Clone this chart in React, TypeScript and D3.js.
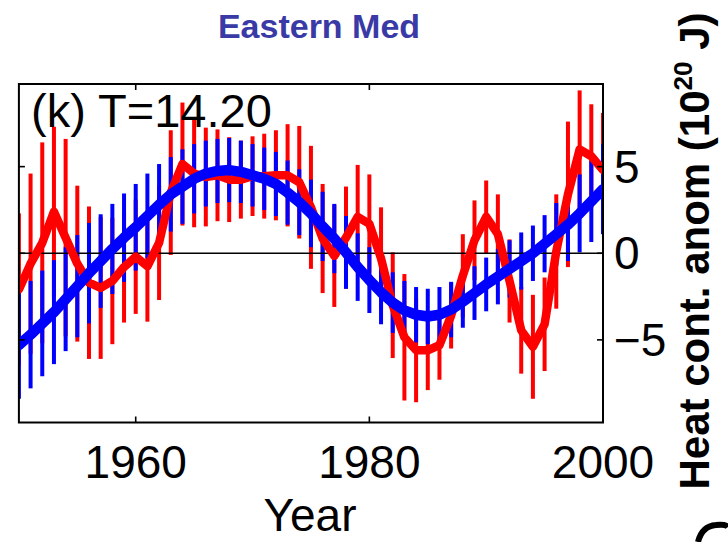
import React from "react";
import * as d3 from "d3";

// Annual heat content anomaly, Eastern Mediterranean (units of 10^20 J)
const years = [
  1950, 1951, 1952, 1953, 1954, 1955, 1956, 1957, 1958, 1959,
  1960, 1961, 1962, 1963, 1964, 1965, 1966, 1967, 1968, 1969,
  1970, 1971, 1972, 1973, 1974, 1975, 1976, 1977, 1978, 1979,
  1980, 1981, 1982, 1983, 1984, 1985, 1986, 1987, 1988, 1989,
  1990, 1991, 1992, 1993, 1994, 1995, 1996, 1997, 1998, 1999, 2000,
];

// Observed series (red) and its uncertainty half-range
const observed = [
  -2.1, -0.6, 0.6, 2.4, 0.9, -0.6, -1.7, -2.0, -1.6, -0.8,
  -0.2, -0.75, 0.6, 3.5, 5.15, 4.6, 4.4, 4.5, 4.25, 4.25,
  4.45, 4.45, 4.5, 4.5, 4.1, 2.65, 0.85, -0.15, 0.9, 2.1,
  1.7, -0.3, -3.0, -4.85, -5.6, -5.6, -5.3, -3.6, -1.3, 0.75,
  2.1, 1.1, -1.6, -4.45, -5.4, -4.1, 0.1, 3.4, 6.0, 5.6, 4.8,
];
const observedErr = [
  4.4, 5.2, 5.8, 4.9, 5.7, 4.5, 4.4, 4.1, 3.65, 3.2,
  3.3, 3.2, 3.3, 3.6, 3.55, 3.1, 2.85, 2.65, 2.45, 2.25,
  2.3, 2.45, 2.6, 2.95, 3.25, 3.55, 3.15, 2.95, 2.95, 3.0,
  2.85, 2.95, 3.05, 3.65, 3.0, 2.3, 2.0, 1.9, 2.4, 2.3,
  2.1, 2.3, 2.4, 2.5, 3.0, 2.7, 3.3, 4.2, 3.4, 3.0, 3.3,
];

// Smooth (blue) series and its uncertainty half-range
const smooth = [
  -5.3, -4.7, -4.05, -3.4, -2.65, -1.9, -1.15, -0.45, 0.25, 0.9,
  1.5, 2.15, 2.8, 3.4, 3.85, 4.3, 4.6, 4.75, 4.8, 4.7,
  4.5, 4.3, 4.0, 3.5, 2.95, 2.3, 1.55, 0.85, 0.05, -0.8,
  -1.55, -2.25, -2.85, -3.3, -3.55, -3.65, -3.55, -3.25, -2.8, -2.3,
  -1.8, -1.35, -0.9, -0.45, 0.0, 0.55, 1.1, 1.65, 2.3, 3.0, 3.7,
];
const smoothErr = [
  3.1, 3.1, 3.05, 3.0, 3.0, 2.95, 2.9, 2.7, 2.6, 2.55,
  2.5, 2.45, 2.35, 2.15, 2.15, 2.0, 1.9, 1.85, 1.85, 1.8,
  1.8, 1.8, 1.85, 1.85, 1.9, 1.95, 2.0, 2.0, 2.1, 1.95,
  1.9, 1.85, 1.75, 1.7, 1.6, 1.6, 1.6, 1.6, 1.5, 1.55,
  1.55, 1.6, 1.65, 1.65, 1.6, 1.65, 1.8, 2.1, 2.25, 2.35, 2.6,
];

const xTicks = [1960, 1980, 2000];
const xTickMarks = [1960, 1980];
const yTicks = [5, 0, -5];

const W = 728;
const H = 542;
const plot = { left: 18.9, right: 603, top: 84, bottom: 422.5 };
const FONT = "'Liberation Sans', Arial, Helvetica, sans-serif";

export default function App() {
  const x = d3.scaleLinear().domain([1950, 2000]).range([plot.left, plot.right]);
  const y = d3.scaleLinear().domain([-9.77, 9.77]).range([plot.bottom, plot.top]);

  const line = d3
    .line<number>()
    .x((_, i) => x(years[i]))
    .y((d) => y(d));

  const barW = 4;

  return (
    <svg
      width={W}
      height={H}
      style={{ position: "absolute", left: 0, top: 0, background: "#fff" }}
    >
      <defs>
        <clipPath id="plotClip">
          <rect
            x={plot.left}
            y={plot.top}
            width={plot.right - plot.left}
            height={plot.bottom - plot.top}
          />
        </clipPath>
      </defs>

      <text
        x={319}
        y={38}
        textAnchor="middle"
        fontFamily={FONT}
        fontWeight="bold"
        fontSize={34}
        fill="#3a3aa6"
      >
        Eastern Med
      </text>

      <g clipPath="url(#plotClip)">
        {/* observed error bars */}
        {years.map((yr, i) => (
          <rect
            key={"re" + yr}
            x={x(yr) - barW / 2}
            width={barW}
            y={y(observed[i] + observedErr[i])}
            height={y(observed[i] - observedErr[i]) - y(observed[i] + observedErr[i])}
            fill="#ff0000"
          />
        ))}
        {/* smooth-fit error bars */}
        {years.map((yr, i) => (
          <rect
            key={"be" + yr}
            x={x(yr) - barW / 2}
            width={barW}
            y={y(smooth[i] + smoothErr[i])}
            height={y(smooth[i] - smoothErr[i]) - y(smooth[i] + smoothErr[i])}
            fill="#0000ff"
          />
        ))}
        <line
          x1={plot.left}
          x2={plot.right}
          y1={y(0)}
          y2={y(0)}
          stroke="#000"
          strokeWidth={1.6}
        />
        <path
          d={line(observed) || ""}
          fill="none"
          stroke="#ff0000"
          strokeWidth={8.5}
          strokeLinejoin="round"
          strokeLinecap="round"
        />
        <path
          d={line(smooth) || ""}
          fill="none"
          stroke="#0000ff"
          strokeWidth={10.5}
          strokeLinejoin="round"
          strokeLinecap="round"
        />
      </g>

      {/* frame and ticks */}
      <rect
        x={plot.left}
        y={plot.top}
        width={plot.right - plot.left}
        height={plot.bottom - plot.top}
        fill="none"
        stroke="#000"
        strokeWidth={2}
      />
      {xTickMarks.map((t) => (
        <g key={"xt" + t}>
          <line x1={x(t)} x2={x(t)} y1={plot.bottom} y2={plot.bottom - 6} stroke="#000" strokeWidth={1.6} />
          <line x1={x(t)} x2={x(t)} y1={plot.top} y2={plot.top + 6} stroke="#000" strokeWidth={1.6} />
        </g>
      ))}
      {yTicks.map((t) => (
        <g key={"yt" + t}>
          <line x1={plot.right} x2={plot.right - 6} y1={y(t)} y2={y(t)} stroke="#000" strokeWidth={1.6} />
          <line x1={plot.left} x2={plot.left + 6} y1={y(t)} y2={y(t)} stroke="#000" strokeWidth={1.6} />
        </g>
      ))}

      <text x={31} y={127} fontFamily={FONT} fontSize={47} fill="#000">
        (k) T=14.20
      </text>

      {xTicks.map((t) => (
        <text
          key={"xl" + t}
          x={x(t)}
          y={478}
          textAnchor="middle"
          fontFamily={FONT}
          fontSize={46}
          fill="#000"
        >
          {t}
        </text>
      ))}
      {yTicks.map((t) => (
        <text
          key={"yl" + t}
          x={614}
          y={y(t) + 16}
          fontFamily={FONT}
          fontSize={46}
          fill="#000"
        >
          {t < 0 ? "\u2212" + Math.abs(t) : String(t)}
        </text>
      ))}

      <text
        x={310}
        y={531}
        textAnchor="middle"
        fontFamily={FONT}
        fontSize={46}
        fill="#000"
      >
        Year
      </text>

      <text
        transform="translate(709,251) rotate(-90)"
        textAnchor="middle"
        fontFamily={FONT}
        fontWeight="bold"
        fontSize={42}
        fill="#000"
      >
        Heat cont. anom (10
        <tspan fontSize={26} dy={-17}>20</tspan>
        <tspan dy={17}> J)</tspan>
      </text>

      {/* edge of the neighbouring panel's glyph */}
      <path
        d="M 698 542 Q 702 526 716 525 Q 726 524 728 527"
        fill="none"
        stroke="#000"
        strokeWidth={6}
      />
    </svg>
  );
}
